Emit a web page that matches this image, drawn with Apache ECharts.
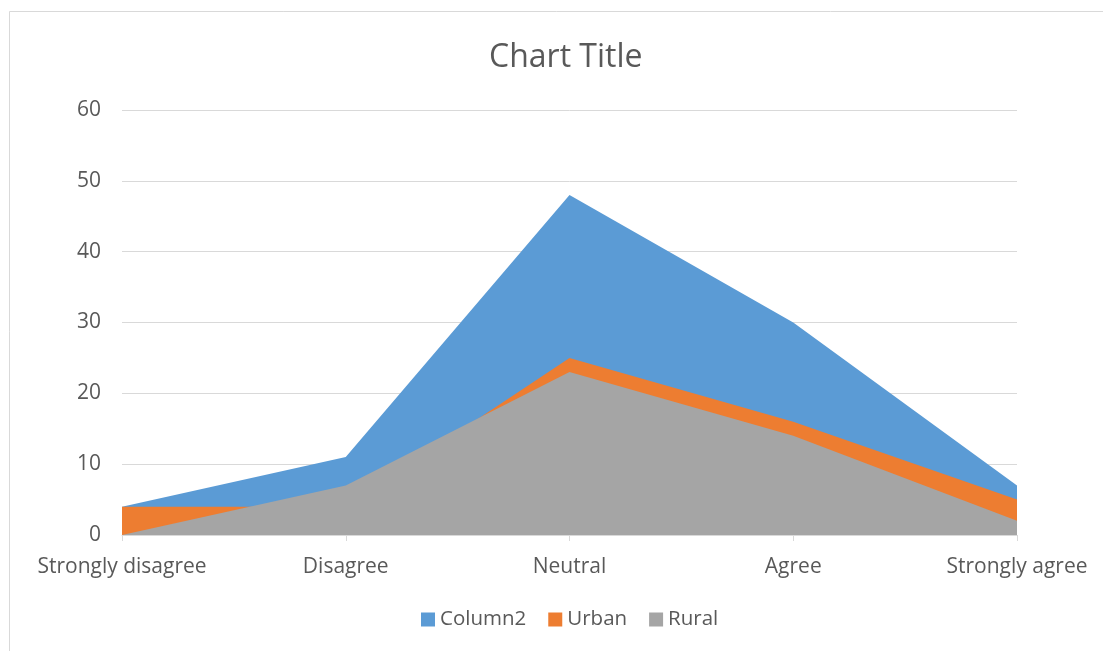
<!DOCTYPE html>
<html>
<head>
<meta charset="utf-8">
<script src="https://cdn.jsdelivr.net/npm/echarts@6/dist/echarts.min.js"></script>
<style>
  html, body { margin: 0; padding: 0; background: #fff; }
  #chart { width: 1103px; height: 651px; }
</style>
</head>
<body>
<div id="chart"></div>
<script>
const categories = ['Strongly disagree', 'Disagree', 'Neutral', 'Agree', 'Strongly agree'];
const column2 = [4, 11, 48, 30, 7];
const urban = [4, 4, 25, 16, 5];
const rural = [0, 7, 23, 14, 2];
const yTicks = { min: 0, max: 60, interval: 10 };

const FONT = 'Open Sans';
const TEXT = '#595959';

const chart = echarts.init(document.getElementById('chart'), null, { renderer: 'canvas' });

function areaSeries(name, data, color) {
  return {
    name: name,
    type: 'line',
    data: data,
    symbol: 'none',
    lineStyle: { width: 0 },
    itemStyle: { color: color },
    areaStyle: { color: color, opacity: 1 },
    emphasis: { disabled: true },
    animation: false
  };
}

chart.setOption({
  backgroundColor: '#fff',
  animation: false,
  graphic: [{
    type: 'rect',
    shape: { x: 9.5, y: 11.5, width: 1200, height: 700 },
    style: { fill: 'none', stroke: '#d9d9d9', lineWidth: 1 },
    silent: true
  }],
  title: {
    text: 'Chart Title',
    left: 484,
    top: 37,
    textStyle: { fontFamily: FONT, fontSize: 32, fontWeight: 'normal', color: TEXT }
  },
  legend: {
    bottom: 16,
    left: 416,
    itemWidth: 14,
    itemHeight: 14,
    itemGap: 22,
    icon: 'rect',
    textStyle: { fontFamily: FONT, fontSize: 20.5, color: TEXT },
    data: ['Column2', 'Urban', 'Rural']
  },
  grid: { left: 122, right: 86, top: 110, bottom: 116, containLabel: false },
  xAxis: {
    type: 'category',
    data: categories,
    boundaryGap: false,
    axisLine: { lineStyle: { color: '#d9d9d9', width: 1 } },
    axisTick: { show: true, alignWithLabel: true, length: 6, lineStyle: { color: '#d9d9d9' } },
    axisLabel: { fontFamily: FONT, fontSize: 21, color: TEXT, margin: 22 }
  },
  yAxis: {
    type: 'value',
    min: yTicks.min,
    max: yTicks.max,
    interval: yTicks.interval,
    axisLine: { show: false },
    axisTick: { show: false },
    splitLine: { lineStyle: { color: '#d9d9d9', width: 1 } },
    axisLabel: { fontFamily: FONT, fontSize: 21, color: TEXT, margin: 21 }
  },
  series: [
    areaSeries('Column2', column2, '#5B9BD5'),
    areaSeries('Urban', urban, '#ED7D31'),
    areaSeries('Rural', rural, '#A5A5A5')
  ]
});
</script>
</body>
</html>
